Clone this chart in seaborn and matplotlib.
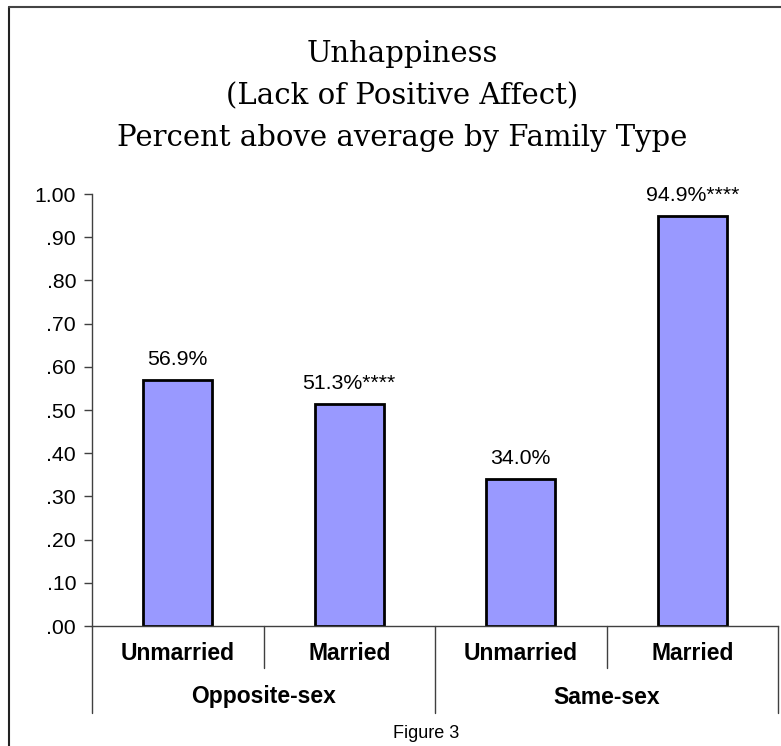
import matplotlib
matplotlib.use("Agg")
import matplotlib.pyplot as plt
import matplotlib.transforms as mtransforms
from matplotlib.lines import Line2D
import seaborn as sns
import pandas as pd

# ---- data ----
categories = ["OS Unmarried", "OS Married", "SS Unmarried", "SS Married"]
sub_labels = ["Unmarried", "Married", "Unmarried", "Married"]
group_labels = ["Opposite-sex", "Same-sex"]
values = [0.569, 0.513, 0.340, 0.949]
bar_labels = ["56.9%", "51.3%****", "34.0%", "94.9%****"]
yticks = [0.0, 0.1, 0.2, 0.3, 0.4, 0.5, 0.6, 0.7, 0.8, 0.9, 1.0]
title_lines = ["Unhappiness", "(Lack of Positive Affect)", "Percent above average by Family Type"]
caption = "Figure 3"

sns.set_style("white")
plt.rcParams["font.family"] = ["Liberation Sans", "DejaVu Sans"]
plt.rcParams["text.color"] = "black"
plt.rcParams["ytick.labelcolor"] = "black"

W, H = 781, 746
fig = plt.figure(figsize=(W / 100, H / 100), dpi=100)
ax = fig.add_axes([92 / W, 1 - 626 / H, (778 - 92) / W, (626 - 194) / H])

df = pd.DataFrame({"cat": categories, "val": values})
sns.barplot(data=df, x="cat", y="val", order=categories, color="#9999FF",
            saturation=1, edgecolor="black", linewidth=2, width=0.4, ax=ax)
for p in ax.patches:
    p.set_facecolor("#9999FF")

ax.set_xlim(-0.5, 3.5)
ax.set_ylim(0, 1.0)
ax.set_yticks(yticks)
ax.set_yticklabels(["1.00" if v >= 1 else f"{v:.2f}".lstrip("0") for v in yticks],
                   fontsize=15.3, color="black")
ax.tick_params(axis="y", direction="out", length=6, width=1, color="#404040",
               labelcolor="black", pad=5.5, left=True)
ax.set_xticks([])
ax.set_xlabel("")
ax.set_ylabel("")
for s in ["top", "right"]:
    ax.spines[s].set_visible(False)
for s in ["left", "bottom"]:
    ax.spines[s].set_color("#404040")
    ax.spines[s].set_linewidth(1)

# value labels
for i, (v, lab) in enumerate(zip(values, bar_labels)):
    ax.annotate(lab, xy=(i, v), xytext=(0, 11), textcoords="offset points",
                ha="center", va="baseline", fontsize=15.3, color="black")

# two-level category axis
trans = mtransforms.blended_transform_factory(ax.transData, ax.transAxes)
h_px = 626 - 194
t1 = -(668 - 626) / h_px
t2 = -(713 - 626) / h_px
for x, yb in [(-0.5, t2), (0.5, t1), (1.5, t2), (2.5, t1), (3.5, t2)]:
    ax.add_line(Line2D([x, x], [0, yb], transform=trans, color="#404040", lw=1, clip_on=False))
for i, lab in enumerate(sub_labels):
    ax.text(i, -(653 - 626) / h_px, lab, transform=trans, ha="center", va="center",
            fontsize=16.5, fontweight="bold", color="black")
for g, lab in enumerate(group_labels):
    ax.text(2 * g + 0.5, -(697 - 626) / h_px, lab, transform=trans, ha="center", va="center",
            fontsize=16.5, fontweight="bold", color="black")

# title
for k, line in enumerate(title_lines):
    fig.text(402 / W, 1 - (62 + 42 * k) / H, line, ha="center", va="baseline",
             fontsize=21, family=["DejaVu Serif"], color="black")

fig.text(426 / W, 1 - 738 / H, caption, ha="center", va="baseline", fontsize=13, color="black")

# figure border (left and top)
fig.add_artist(Line2D([9 / W, 9 / W], [0, 1 - 7 / H], transform=fig.transFigure, color="#222222", lw=1.5))
fig.add_artist(Line2D([9 / W, 1], [1 - 7 / H, 1 - 7 / H], transform=fig.transFigure, color="#444444", lw=1.5))

fig.savefig("out.png", dpi=100)
